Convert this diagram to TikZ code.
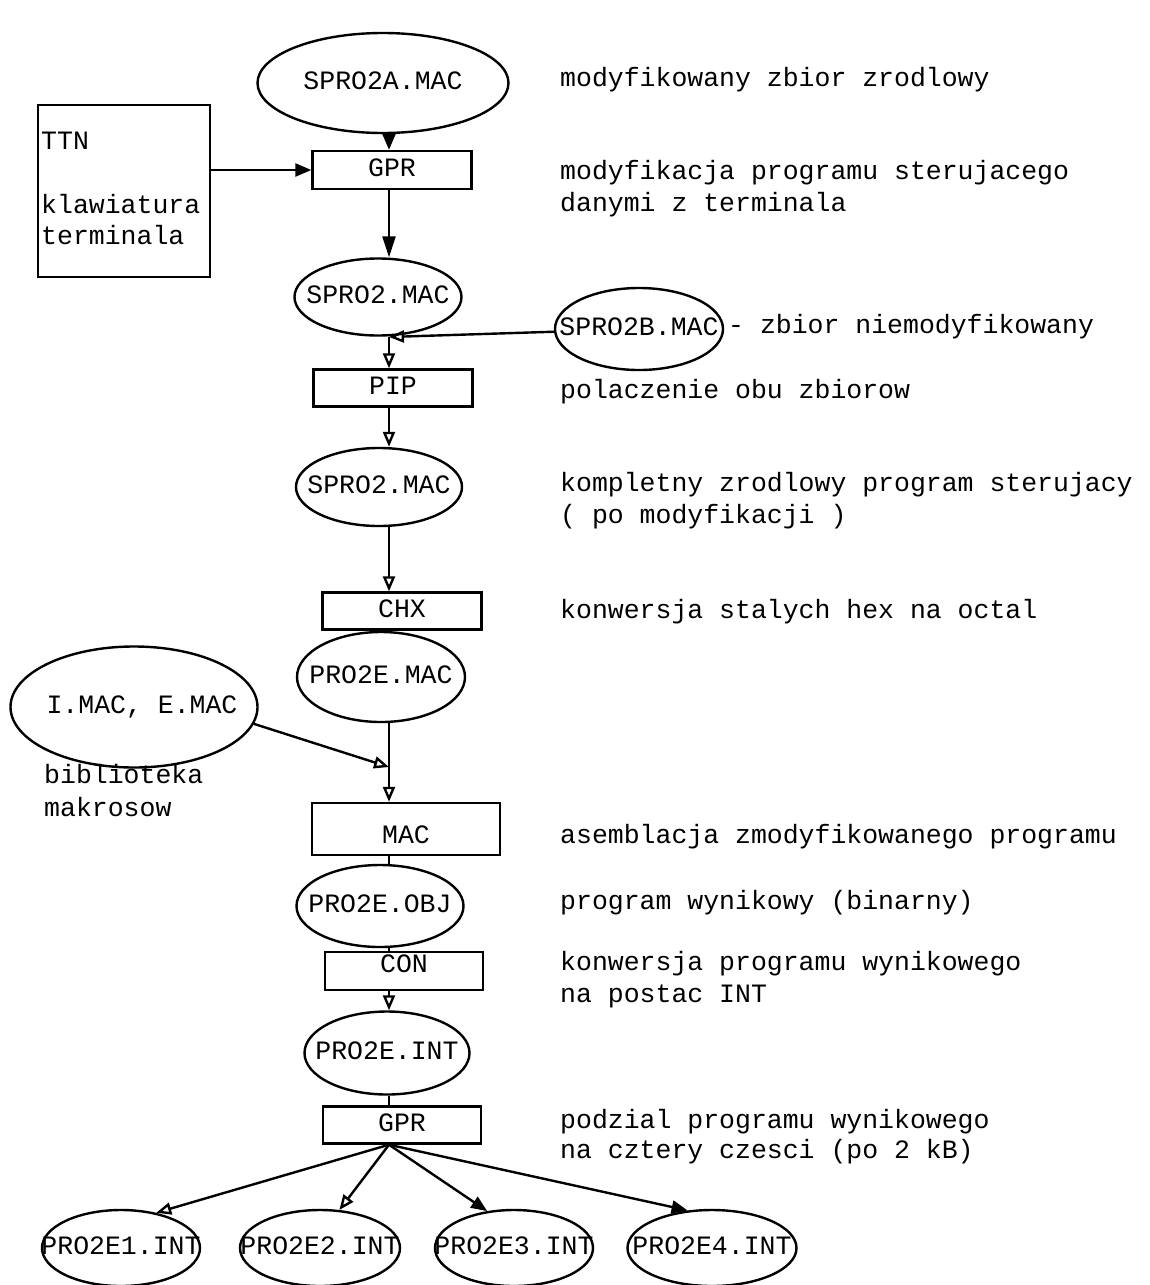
\documentclass[tikz,border=0pt]{standalone}
\usepackage{fontspec}
\setmonofont{Liberation Mono}
\usetikzlibrary{arrows.meta,shapes.geometric}
\newcommand{\fnm}[1]{\makebox[0pt]{#1}}
\begin{document}
\begin{tikzpicture}[x=1pt,y=-1pt,
  every node/.style={font=\ttfamily\fontsize{26.5}{32}\selectfont, inner sep=0pt, text height=18pt, text depth=5pt},
  file/.style={draw, ellipse, line width=2.4pt},
  prog/.style={draw, rectangle, line width=2.4pt},
  lbl/.style={anchor=west},
  conn/.style={line width=2.4pt},
  arrf/.style={conn, -{Triangle[length=16pt,width=13pt]}},
  arrbig/.style={conn, -{Triangle[length=21pt,width=13pt]}},
  arro/.style={conn, -{Triangle[open,length=15pt,width=12pt]}},
]
\fill[white] (0,0) rectangle (1149,1285);
\useasboundingbox (0,0) rectangle (1149,1285);
\coordinate (col) at (389,0);

% main column
\node[file, minimum width=251pt, minimum height=100pt] (a) at (383,83) {\fnm{SPRO2A.MAC}};
\node[prog, minimum width=159pt, minimum height=38pt] (g1) at (392,170) {GPR};
\node[prog, minimum width=172pt, minimum height=172pt] (ttn) at (124,191) {};
\node[anchor=west] (t1) at (41,143) {TTN};
\node[anchor=west] (t2) at (41,207) {klawiatura};
\node[anchor=west] (t3) at (41,238) {terminala};
\node[file, minimum width=167pt, minimum height=77pt] (s1) at (378,297) {\fnm{SPRO2.MAC}};
\node[file, minimum width=168pt, minimum height=82pt] (sb) at (639,329) {\fnm{SPRO2B.MAC}};
\node[prog, minimum width=159pt, minimum height=37pt] (pip) at (393,388) {PIP};
\node[file, minimum width=166pt, minimum height=78pt] (s2) at (379,487) {\fnm{SPRO2.MAC}};
\node[prog, minimum width=159pt, minimum height=37pt] (chx) at (402,611) {CHX};
\node[file, minimum width=168pt, minimum height=90pt] (pm) at (381,677) {\fnm{PRO2E.MAC}};
\node[file, minimum width=247pt, minimum height=121pt] (lib) at (134,707) {\fnm{\hspace{16pt}I.MAC, E.MAC}};
\node[anchor=west] (b1) at (44,777) {biblioteka};
\node[anchor=west] (b2) at (44,810) {makrosow};
\node[prog, minimum width=188pt, minimum height=52pt] (mac) at (406,829) {\raisebox{-8pt}{MAC}};
\node[file, minimum width=167pt, minimum height=82pt] (obj) at (380,906) {\fnm{PRO2E.OBJ}};
\node[prog, minimum width=158pt, minimum height=38pt] (con) at (404,971) {\raisebox{5pt}{CON}};
\node[file, minimum width=165pt, minimum height=83pt] (int) at (387,1053) {\fnm{PRO2E.INT}};
\node[prog, minimum width=158pt, minimum height=37pt] (g2) at (402,1125) {GPR};
\node[file, minimum width=158pt, minimum height=76pt] (e1) at (121,1248) {\fnm{PRO2E1.INT}};
\node[file, minimum width=160pt, minimum height=76pt] (e2) at (320,1248) {\fnm{PRO2E2.INT}};
\node[file, minimum width=158pt, minimum height=76pt] (e3) at (514,1248) {\fnm{PRO2E3.INT}};
\node[file, minimum width=169pt, minimum height=76pt] (e4) at (712,1248) {\fnm{PRO2E4.INT}};

% labels
\node[lbl] (l1) at (560,80) {modyfikowany zbior zrodlowy};
\node[lbl] (l2) at (560,173) {modyfikacja programu sterujacego};
\node[lbl] (l3) at (560,205) {danymi z terminala};
\node[lbl] (l4) at (728,327) {- zbior niemodyfikowany};
\node[lbl] (l5) at (560,392) {polaczenie obu zbiorow};
\node[lbl] (l6) at (560,485) {kompletny zrodlowy program sterujacy};
\node[lbl] (l7) at (560,517) {( po modyfikacji )};
\node[lbl] (l8) at (560,612) {konwersja stalych hex na octal};
\node[lbl] (l9) at (560,837) {asemblacja zmodyfikowanego programu};
\node[lbl] (l10) at (560,903) {program wynikowy (binarny)};
\node[lbl] (l11) at (560,964) {konwersja programu wynikowego};
\node[lbl] (l12) at (560,996) {na postac INT};
\node[lbl] (l13) at (560,1122) {podzial programu wynikowego};
\node[lbl] (l14) at (560,1152) {na cztery czesci (po 2 kB)};

% connectors
\coordinate (j1) at (389,337);
\coordinate (j2) at (389,767);
\draw[arrf] (a.south -| col) -- (g1.north -| col);
\draw[arrf] (ttn.east |- g1) -- (g1.west);
\draw[arrbig] (g1.south -| col) -- (s1.north -| col);
\draw[arro] (sb) -- (j1);
\draw[arro] (s1.south -| col) -- (pip.north -| col);
\draw[arro] (pip.south -| col) -- (s2.north -| col);
\draw[arro] (s2.south -| col) -- (chx.north -| col);
\draw[conn] (chx.south -| col) -- (pm.north -| col);
\draw[arro] (pm.south -| col) -- (mac.north -| col);
\draw[arro] (lib.-8) -- (j2);
\draw[conn] (mac.south -| col) -- (obj.north -| col);
\draw[conn] (obj.south -| col) -- (con.north -| col);
\draw[arro] (con.south -| col) -- (int.north -| col);
\draw[conn] (int.south -| col) -- (g2.north -| col);
\draw[arro] (g2.south -| col) -- (e1.45);
\draw[arro] (g2.south -| col) -- (e2.63);
\draw[arrf] (g2.south -| col) -- (e3.126);
\draw[arrf] (g2.south -| col) -- (e4.123);
\end{tikzpicture}
\end{document}
